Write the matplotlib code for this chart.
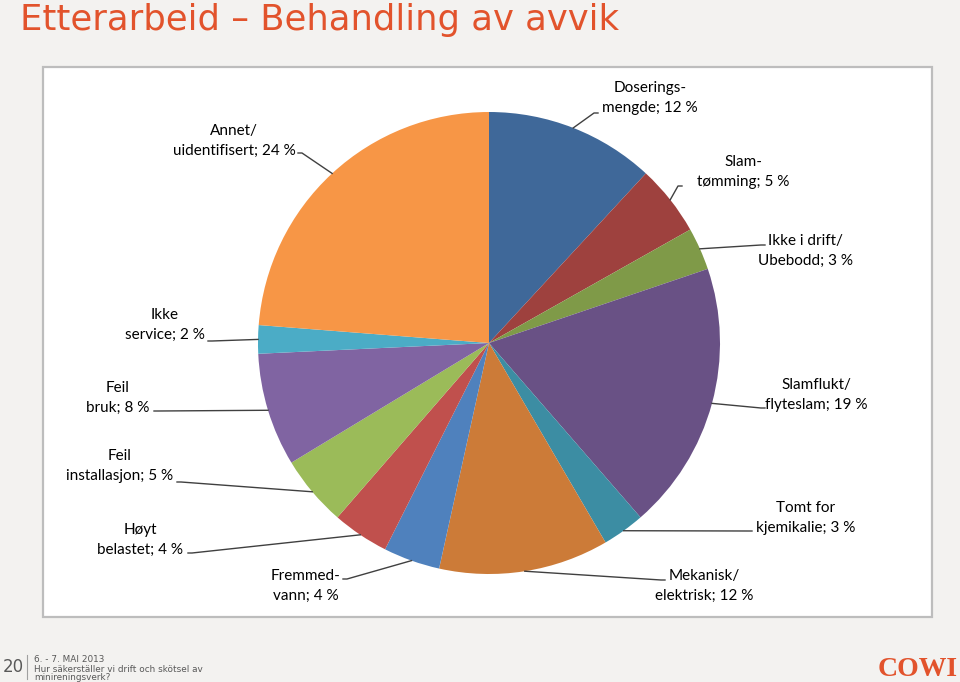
import matplotlib
matplotlib.use("Agg")
import numpy as np
import matplotlib.pyplot as plt
from matplotlib.patches import Rectangle
from matplotlib.lines import Line2D

# data
names = ["Doserings-\nmengde", "Slam-\ntømming", "Ikke i drift/\nUbebodd",
         "Slamflukt/\nflyteslam", "Tomt for\nkjemikalie", "Mekanisk/\nelektrisk",
         "Fremmed-\nvann", "Høyt\nbelastet", "Feil\ninstallasjon", "Feil\nbruk",
         "Ikke\nservice", "Annet/\nuidentifisert"]
values = [12, 5, 3, 19, 3, 12, 4, 4, 5, 8, 2, 24]
colors = ["#3F6899", "#9E413E", "#7F9A48", "#695185", "#3C8DA3", "#CC7B38",
          "#4F81BD", "#C0504D", "#9BBB59", "#8064A2", "#4BACC6", "#F79646"]

W, H = 960, 682
# label centre (x, y from top) and where the leader line meets the text
label_pos = [(650, 98), (743, 172), (805, 251), (816, 395), (806, 518), (704, 586),
             (306, 586), (140, 540), (120, 466), (118, 398), (165, 325), (234, 141)]
leader_end = [(598, 113), (682, 186), (765, 245), (765, 408), (752, 531), (665, 580),
              (343, 579), (188, 553), (177, 482), (154, 411), (208, 341), (298, 153)]

fig = plt.figure(figsize=(9.6, 6.82), dpi=100)
fig.patch.set_facecolor("#F3F2F0")

# chart box
fig.add_artist(Rectangle((43 / W, 1 - 617 / H), (932 - 43) / W, (617 - 67) / H,
                         transform=fig.transFigure, facecolor="white",
                         edgecolor="#BDBDBD", linewidth=1.6, zorder=-5))

cx, cy, r = 489, 343, 231
ax = fig.add_axes([(cx - r) / W, (H - cy - r) / H, 2 * r / W, 2 * r / H])
ax.set_zorder(2)
ax.patch.set_visible(False)
wedges, _ = ax.pie(values, colors=colors, startangle=90, counterclock=False,
                   radius=1, wedgeprops=dict(linewidth=0))
ax.set_xlim(-1, 1)
ax.set_ylim(-1, 1)
ax.set_aspect("equal")
ax.axis("off")

for w, name, v, (tx, ty), (lx, ly) in zip(wedges, names, values, label_pos, leader_end):
    mid = np.deg2rad((w.theta1 + w.theta2) / 2)
    px, py = ax.transData.transform((np.cos(mid), np.sin(mid)))
    fx, fy = lx, H - ly
    stub = 4 if fx < px else -4
    fig.add_artist(Line2D([px, fx + stub, fx], [py, fy, fy], transform=None,
                          color="#404040", linewidth=1, zorder=3))
    fig.text(tx / W, 1 - ty / H, f"{name}; {v} %", ha="center", va="center",
             multialignment="center", fontsize=11, family="Lato",
             linespacing=1.6, color="black")

# title
fig.text(20 / W, 1 - 30 / H, "Etterarbeid – Behandling av avvik", fontsize=25.5,
         family="DejaVu Sans", color="#E2532C", va="baseline", ha="left")

# footer
fig.text(3 / W, 1 - 667 / H, "20", fontsize=12, color="#595959", va="center")
fig.add_artist(Line2D([27 / W, 27 / W], [1 - 655 / H, 1 - 679 / H],
                      transform=fig.transFigure, color="#A0A0A0", linewidth=0.8))
for txt, y in [("6. - 7. MAI 2013", 660), ("Hur säkerställer vi drift och skötsel av", 669),
               ("minireningsverk?", 678)]:
    fig.text(34 / W, 1 - y / H, txt, fontsize=6.4, color="#595959", va="center")

fig.text(958 / W, 1 - 669 / H, "COWI", fontsize=20, family="Liberation Serif",
         weight="bold", color="#E2532C", ha="right", va="center")

fig.savefig("out.png", dpi=100, facecolor=fig.get_facecolor())
